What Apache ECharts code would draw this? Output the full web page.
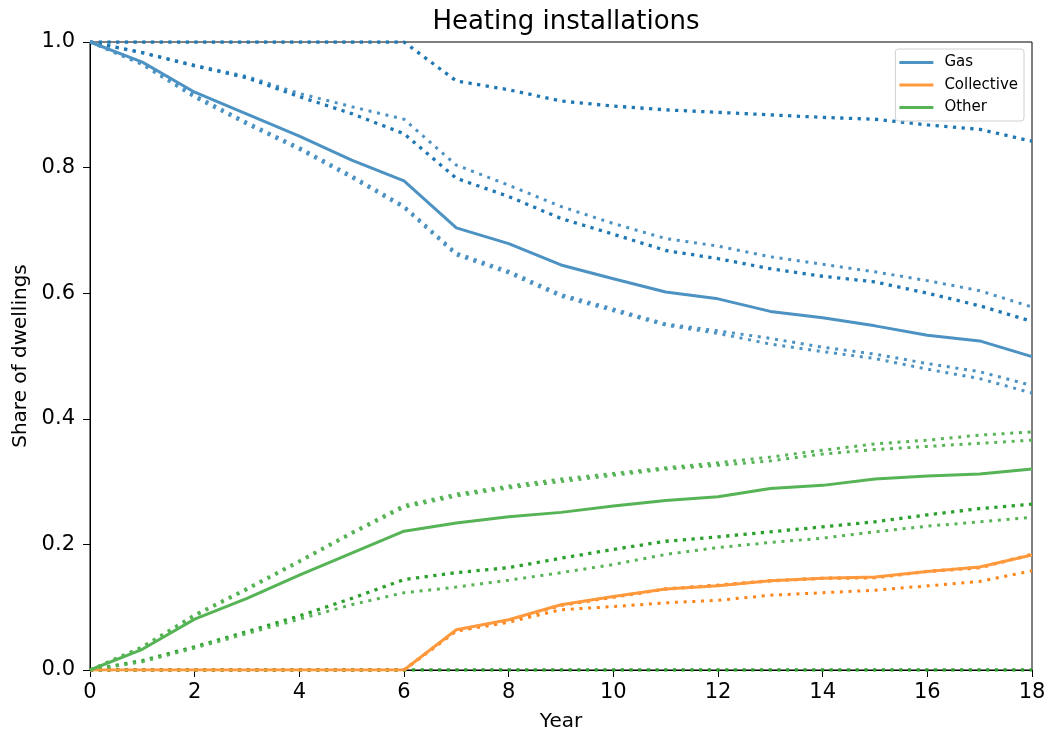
<!DOCTYPE html>
<html>
<head>
<meta charset="utf-8">
<script src="https://cdn.jsdelivr.net/npm/echarts@6/dist/echarts.min.js"></script>
<style>
  html, body { margin: 0; padding: 0; background: #fff; }
  #chart { width: 1051px; height: 740px; }
</style>
</head>
<body>
<div id="chart"></div>
<script>
// years on the x axis
const years = [0, 1, 2, 3, 4, 5, 6, 7, 8, 9, 10, 11, 12, 13, 14, 15, 16, 17, 18];
const xTicks = [0, 2, 4, 6, 8, 10, 12, 14, 16, 18];
const yTicks = [0.0, 0.2, 0.4, 0.6, 0.8, 1.0];

// mean lines (solid)
const gasMean = [1.0, 0.968, 0.920, 0.885, 0.850, 0.812, 0.779, 0.704, 0.679, 0.645, 0.623, 0.602, 0.591, 0.571, 0.561, 0.548, 0.533, 0.524, 0.499];
const collMean = [0, 0, 0, 0, 0, 0, 0, 0.064, 0.080, 0.104, 0.117, 0.129, 0.134, 0.142, 0.146, 0.148, 0.157, 0.164, 0.183];
const otherMean = [0, 0.033, 0.081, 0.114, 0.151, 0.186, 0.221, 0.234, 0.244, 0.251, 0.261, 0.270, 0.276, 0.289, 0.294, 0.304, 0.309, 0.312, 0.320];

// scenario lines (dotted)
const gasA = [1.0, 1.0, 1.0, 1.0, 1.0, 1.0, 1.0, 0.938, 0.924, 0.906, 0.898, 0.892, 0.888, 0.884, 0.880, 0.877, 0.868, 0.861, 0.842];
const gasB = [1.0, 0.983, 0.963, 0.945, 0.918, 0.897, 0.877, 0.804, 0.772, 0.738, 0.711, 0.687, 0.675, 0.658, 0.646, 0.634, 0.620, 0.604, 0.578];
const gasC = [1.0, 0.983, 0.962, 0.943, 0.913, 0.886, 0.854, 0.783, 0.754, 0.719, 0.694, 0.668, 0.655, 0.639, 0.627, 0.618, 0.600, 0.580, 0.555];
const gasD1 = [1.0, 0.966, 0.915, 0.872, 0.832, 0.787, 0.739, 0.664, 0.635, 0.598, 0.575, 0.551, 0.540, 0.528, 0.514, 0.503, 0.488, 0.475, 0.453];
const gasD2 = [1.0, 0.964, 0.912, 0.869, 0.829, 0.784, 0.736, 0.661, 0.632, 0.595, 0.572, 0.549, 0.536, 0.519, 0.507, 0.496, 0.479, 0.464, 0.441];

const collHigh = [0, 0, 0, 0, 0, 0, 0, 0.063, 0.079, 0.103, 0.116, 0.129, 0.135, 0.142, 0.146, 0.147, 0.157, 0.163, 0.184];
const collLow = [0, 0, 0, 0, 0, 0, 0, 0.062, 0.076, 0.096, 0.101, 0.107, 0.111, 0.119, 0.123, 0.127, 0.134, 0.141, 0.158];

const otherTop1 = [0, 0.037, 0.088, 0.130, 0.174, 0.219, 0.262, 0.280, 0.293, 0.304, 0.313, 0.322, 0.330, 0.339, 0.350, 0.360, 0.366, 0.374, 0.379];
const otherTop2 = [0, 0.036, 0.086, 0.128, 0.172, 0.217, 0.259, 0.277, 0.290, 0.300, 0.310, 0.320, 0.326, 0.333, 0.344, 0.351, 0.356, 0.361, 0.366];
const otherMid = [0, 0.015, 0.037, 0.061, 0.086, 0.114, 0.144, 0.155, 0.163, 0.178, 0.192, 0.205, 0.212, 0.220, 0.228, 0.236, 0.247, 0.257, 0.264];
const otherLow = [0, 0.013, 0.035, 0.058, 0.081, 0.104, 0.123, 0.132, 0.143, 0.155, 0.168, 0.184, 0.195, 0.203, 0.210, 0.220, 0.229, 0.236, 0.243];
const otherZero = [0, 0, 0, 0, 0, 0, 0, 0, 0, 0, 0, 0, 0, 0, 0, 0, 0, 0, 0];

const FONT = 'DejaVu Sans';

function pairs(vals) {
  return years.map((y, i) => [y, vals[i]]);
}

function solid(name, vals, color) {
  return {
    name: name,
    type: 'line',
    data: pairs(vals),
    symbol: 'none',
    lineStyle: { color: color, width: 3 },
    itemStyle: { color: color },
    z: 3
  };
}

function dotted(vals, color, width) {
  return {
    type: 'line',
    data: pairs(vals),
    symbol: 'none',
    silent: true,
    lineStyle: { color: color, width: width, type: [width, 8.7 - width], cap: 'butt' },
    z: 2
  };
}

const chart = echarts.init(document.getElementById('chart'));

const option = {
  animation: false,
  title: {
    text: 'Heating installations',
    left: 561,
    textAlign: 'center',
    top: 4,
    textStyle: { fontFamily: FONT, fontSize: 26, fontWeight: 'normal', color: '#000' }
  },
  legend: {
    data: ['Gas', 'Collective', 'Other'],
    orient: 'vertical',
    right: 27,
    top: 49,
    icon: 'rect',
    itemWidth: 34,
    itemHeight: 3,
    itemGap: 7.5,
    padding: [6, 6, 6, 4],
    borderColor: '#d0d0d0',
    borderWidth: 1,
    borderRadius: 3,
    selectedMode: false,
    textStyle: { fontFamily: FONT, fontSize: 15, color: '#000', lineHeight: 15, padding: [0, 0, 0, 6] }
  },
  grid: {
    left: 90,
    right: 19,
    top: 42,
    bottom: 70,
    show: true,
    borderColor: '#000',
    borderWidth: 1,
    backgroundColor: 'transparent'
  },
  xAxis: {
    type: 'value',
    min: 0,
    max: 18,
    interval: 2,
    name: 'Year',
    nameLocation: 'middle',
    nameGap: 42,
    nameTextStyle: { fontFamily: FONT, fontSize: 20, color: '#000' },
    axisLine: { show: true, lineStyle: { color: '#000', width: 1 } },
    axisTick: { show: true, length: 7, lineStyle: { color: '#000', width: 1 } },
    axisLabel: {
      fontFamily: FONT, fontSize: 21, color: '#000', margin: 12,
      formatter: v => (xTicks.indexOf(v) >= 0 ? String(v) : '')
    },
    splitLine: { show: false }
  },
  yAxis: {
    type: 'value',
    min: 0,
    max: 1,
    interval: 0.2,
    name: 'Share of dwellings',
    nameLocation: 'middle',
    nameGap: 58,
    nameTextStyle: { fontFamily: FONT, fontSize: 20, color: '#000' },
    axisLine: { show: true, lineStyle: { color: '#000', width: 1 } },
    axisTick: { show: true, length: 7, lineStyle: { color: '#000', width: 1 } },
    axisLabel: {
      fontFamily: FONT, fontSize: 21, color: '#000', margin: 15,
      formatter: v => v.toFixed(1)
    },
    splitLine: { show: false }
  },
  series: [
    dotted(gasA, '#1f77b4', 3.3),
    dotted(gasB, '#4c92c3', 3),
    dotted(gasC, '#1f77b4', 3.3),
    dotted(gasD1, '#4c92c3', 3),
    dotted(gasD2, '#4c92c3', 3),
    solid('Gas', gasMean, '#4c92c3'),
    dotted(collHigh, '#ff7f0e', 3.3),
    dotted(collLow, '#ff8418', 3),
    solid('Collective', collMean, '#ff993e'),
    dotted(otherTop1, '#56b356', 3),
    dotted(otherTop2, '#56b356', 3),
    dotted(otherMid, '#2ca02c', 3.3),
    dotted(otherLow, '#56b356', 3),
    solid('Other', otherMean, '#56b356'),
    dotted(otherZero, '#2ca02c', 3.3)
  ]
};

chart.setOption(option);
</script>
</body>
</html>
